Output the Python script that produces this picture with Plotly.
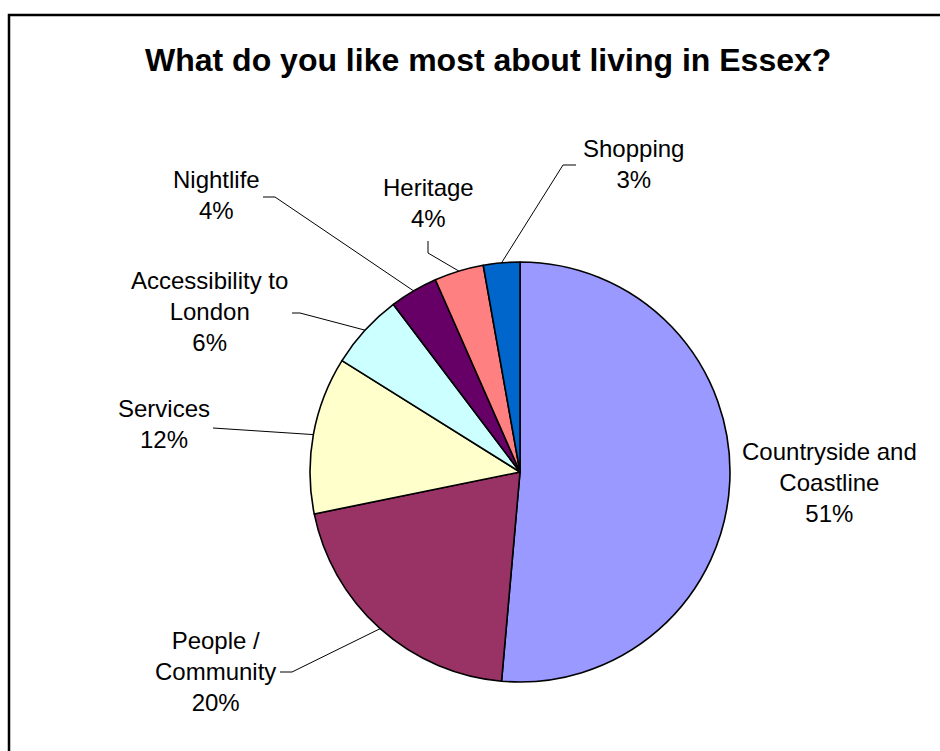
import math
import plotly.graph_objects as go

# ---------------- data ----------------
categories = ["Countryside and Coastline", "People / Community", "Services",
              "Accessibility to London", "Nightlife", "Heritage", "Shopping"]
label_lines = ["Countryside and<br>Coastline", "People /<br>Community", "Services",
               "Accessibility to<br>London", "Nightlife", "Heritage", "Shopping"]
values = [51.4, 20.4, 12.1, 5.8, 3.7, 3.8, 2.8]
colors = ["#9999FF", "#993366", "#FFFFCC", "#CCFFFF", "#660066", "#FF8080", "#0066CC"]
title_text = "What do you like most about living in Essex?"

# ---------------- layout constants (pixels) ----------------
W, H = 940, 751
CX, CY, R = 520, 472, 210
FONT = "Liberation Sans, Arial, sans-serif"
LABEL_SIZE = 24
# label block centres
label_pos = [(829, 482), (215, 671), (164, 424), (209, 311), (216, 195), (428, 203), (633, 164)]
# leader-line waypoints after the slice edge point (None = no leader)
leader_pts = [None,
              [(292, 672), (280, 672)],
              [(213, 428)],
              [(300, 313), (292, 313)],
              [(275, 197), (263, 197)],
              [(428, 253), (428, 241)],
              [(563, 165), (576, 165)]]


def px(x, y):
    return x / W, 1 - y / H


total = sum(values)
fig = go.Figure()
fig.add_trace(go.Pie(
    labels=categories, values=values, sort=False, direction="clockwise",
    rotation=0, textinfo="none", hoverinfo="label+percent",
    marker=dict(colors=colors, line=dict(color="black", width=1.6)),
    domain=dict(x=[(CX - R) / W, (CX + R) / W], y=[1 - (CY + R) / H, 1 - (CY - R) / H]),
    showlegend=False,
))

annotations = [dict(text="<b>" + title_text + "</b>", x=488 / W, y=1 - 60 / H,
                    xref="paper", yref="paper", showarrow=False,
                    xanchor="center", yanchor="middle",
                    font=dict(family=FONT, size=32, color="black"))]
shapes = [dict(type="rect", xref="paper", yref="paper",
               x0=9 / W, y0=1 - 15 / H, x1=1.05, y1=-0.05,
               line=dict(color="black", width=2.5), fillcolor="rgba(0,0,0,0)")]

cum = 0.0
for i, v in enumerate(values):
    mid = (cum + v / 2) / total * 2 * math.pi
    cum += v
    pct = round(v / total * 100)
    lx, ly = label_pos[i]
    ax, ay = px(lx, ly)
    annotations.append(dict(text=f"{label_lines[i]}<br>{pct}%", x=ax, y=ay,
                            xref="paper", yref="paper", showarrow=False,
                            xanchor="center", yanchor="middle", align="center",
                            font=dict(family=FONT, size=LABEL_SIZE, color="black")))
    if leader_pts[i]:
        ex = CX + R * math.sin(mid)
        ey = CY - R * math.cos(mid)
        pts = [(ex, ey)] + leader_pts[i]
        path = ""
        for j, (x, y) in enumerate(pts):
            X, Y = px(x, y)
            path += ("M" if j == 0 else "L") + f"{X:.5f},{Y:.5f} "
        shapes.append(dict(type="path", xref="paper", yref="paper", path=path.strip(),
                           line=dict(color="black", width=1)))

fig.update_layout(width=W, height=H, margin=dict(l=0, r=0, t=0, b=0),
                  paper_bgcolor="white", plot_bgcolor="white",
                  annotations=annotations, shapes=shapes)
fig.write_html("out.html")
